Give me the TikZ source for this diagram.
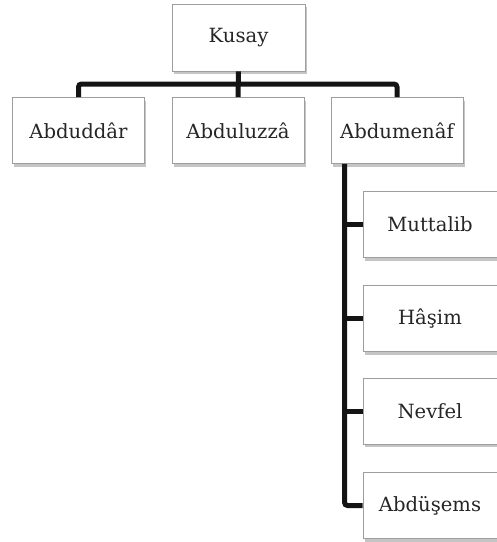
\documentclass[tikz,border=0pt]{standalone}
\usepackage{fontspec}
\setmainfont{DejaVu Serif}
\usetikzlibrary{calc,shadows}
\begin{document}
\begin{tikzpicture}[x=1pt,y=-1pt,
  member/.style={draw=black!38,line width=0.9pt,fill=white,
    minimum width=132pt,minimum height=66pt,inner sep=0pt,
    font=\fontsize{19.6}{22}\selectfont,text=black!85,
    general shadow={fill=black!45,opacity=0.5,shadow xshift=1.5pt,shadow yshift=-3pt}},
  link/.style={line width=5pt,draw=black!92,rounded corners=3pt}]
\useasboundingbox[fill=white] (0,0) rectangle (497,542);

% founder and his sons
\node[member,minimum width=133pt,minimum height=67pt] (kusay) at (238.5,37.5) {Kusay};
\node[member] (abduddar)  at (78.5,130.5) {Abduddâr};
\node[member] (abduluzza) at (238,130.5)  {Abduluzzâ};
\node[member] (abdumenaf) at (397,130.5)  {Abdumenâf};

% sons of Abdumenaf
\node[member,minimum width=134pt] (muttalib) at (430,224.5) {Muttalib};
\node[member,minimum width=134pt] (hasim)    at (430,318.5) {Hâşim};
\node[member,minimum width=134pt] (nevfel)   at (430,411)   {Nevfel};
\node[member,minimum width=134pt] (abdusems) at (430,505.5) {Abdüşems};

% top-level bar
\coordinate (bar) at (238.5,84);
\draw[link] (abduddar.north) |- (bar) -| (abdumenaf.north);
\draw[link] (kusay.south) -- (abduluzza.north);

% trunk down the left side of the column
\coordinate (trunk) at ($(abdumenaf.south west)+(14,0)$);
\draw[link] (trunk) |- (abdusems.west);
\draw[link] (muttalib.west -| trunk) -- (muttalib.west);
\draw[link] (hasim.west -| trunk) -- (hasim.west);
\draw[link] (nevfel.west -| trunk) -- (nevfel.west);
\end{tikzpicture}
\end{document}
